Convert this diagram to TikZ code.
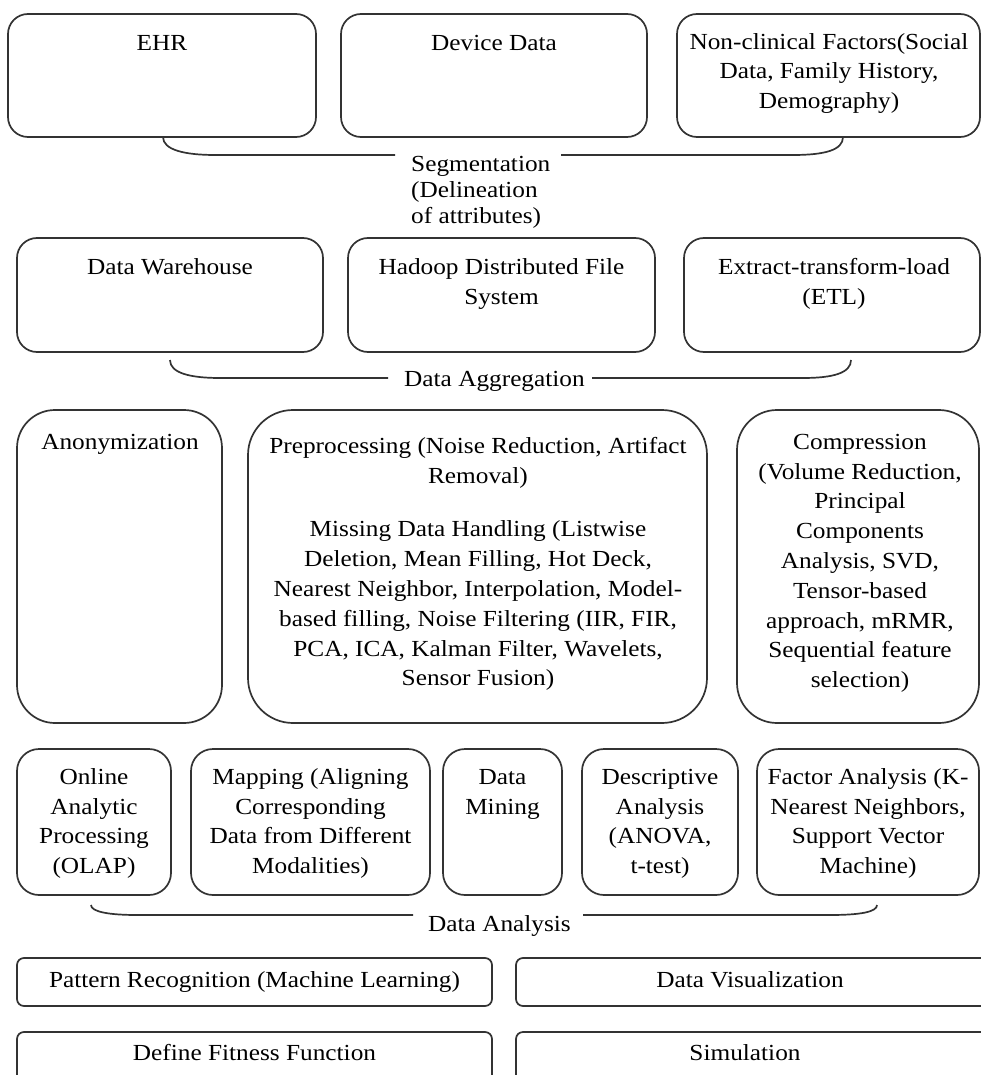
\documentclass[tikz,border=0pt]{standalone}
\usepackage{fontspec}
\setmainfont{Liberation Serif}[FakeStretch=1.1]
\newcommand\mybox[6]{%
  \node[boxst, rounded corners=#6pt, minimum width={#4-#2}, minimum height={#5-#3}] (#1) at ({(#2+#4)/2},{(#3+#5)/2}) {};}
\newcommand\mytext[4]{%
  \node[txt, anchor=north] (#1) at (#2,{#3-20.86}) {\strut #4};}
\begin{document}
\begin{tikzpicture}[x=1pt,y=-1pt,
  boxst/.style={draw=black!80, line width=1.7pt, inner sep=0pt, fill=none},
  txt/.style={font=\fontsize{23}{29.8}\selectfont, align=center, inner sep=0pt},
  lbl/.style={font=\fontsize{23}{26}\selectfont, align=left, inner sep=0pt},
  bracest/.style={draw=black!80, line width=1.7pt}]
\useasboundingbox (0,0) rectangle (981,1075);
\clip (0,0) rectangle (981,1075);
% Row 1
\mybox{ehr}{8}{14}{316}{137}{20}
\mybox{dev}{341}{14}{647}{137}{20}
\mybox{nonc}{677}{14}{980}{137}{20}
\mytext{ehrT}{162}{50}{EHR}
\mytext{devT}{494}{50}{Device Data}
\mytext{noncT}{829}{49}{Non-clinical Factors(Social\\Data, Family History,\\Demography)}
% Brace 1
\coordinate (b1a) at (163,137);
\coordinate (b1b) at (395,155);
\coordinate (b1c) at (561,155);
\coordinate (b1d) at (843,137);
\draw[bracest] (b1a) .. controls (163,150) and (185,155) .. (215,155) -- (b1b);
\draw[bracest] (b1c) -- (793,155) .. controls (825,155) and (843,150) .. (b1d);
\node[lbl, anchor=north west] (segT) at (411,{171-18.2}) {\strut Segmentation\\(Delineation\\of attributes)};
% Row 2
\mybox{dw}{17}{238}{323}{352}{20}
\mybox{hdfs}{348}{238}{655}{352}{20}
\mybox{etl}{684}{238}{980}{352}{20}
\mytext{dwT}{170}{274}{Data Warehouse}
\mytext{hdfsT}{501.5}{274}{Hadoop Distributed File\\System}
\mytext{etlT}{834}{274}{Extract-transform-load\\(ETL)}
% Brace 2
\coordinate (b2a) at (170,360);
\coordinate (b2b) at (388,378);
\coordinate (b2c) at (592,378);
\coordinate (b2d) at (851,360);
\draw[bracest] (b2a) .. controls (170,373) and (190,378) .. (220,378) -- (b2b);
\draw[bracest] (b2c) -- (803,378) .. controls (833,378) and (851,373) .. (b2d);
\node[txt, anchor=base west] (aggT) at (404,386) {Data Aggregation};
% Row 3
\mybox{anon}{17}{410}{222}{723}{38}
\mybox{pre}{248}{410}{707}{723}{45}
\mybox{comp}{737}{410}{979}{723}{40}
\mytext{anonT}{120}{449}{Anonymization}
\mytext{preT}{478}{453}{Preprocessing (Noise Reduction, Artifact\\Removal)\\[24pt]Missing Data Handling (Listwise\\Deletion, Mean Filling, Hot Deck,\\Nearest Neighbor, Interpolation, Model-\\based filling, Noise Filtering (IIR, FIR,\\PCA, ICA, Kalman Filter, Wavelets,\\Sensor Fusion)}
\mytext{compT}{860}{449}{Compression\\(Volume Reduction,\\Principal\\Components\\Analysis, SVD,\\Tensor-based\\approach, mRMR,\\Sequential feature\\selection)}
% Row 4
\mybox{olap}{17}{749}{171}{895}{22}
\mybox{map}{191}{749}{430}{895}{22}
\mybox{dm}{443}{749}{562}{895}{22}
\mybox{desc}{582}{749}{738}{895}{22}
\mybox{fact}{757}{749}{979}{895}{22}
\mytext{olapT}{94}{784}{Online\\Analytic\\Processing\\(OLAP)}
\mytext{mapT}{310.5}{784}{Mapping (Aligning\\Corresponding\\Data from Different\\Modalities)}
\mytext{dmT}{502.5}{784}{Data\\Mining}
\mytext{descT}{660}{784}{Descriptive\\Analysis\\(ANOVA,\\t-test)}
\mytext{factT}{868}{784}{Factor Analysis (K-\\Nearest Neighbors,\\Support Vector\\Machine)}
% Brace 3
\coordinate (b3a) at (91,905);
\coordinate (b3b) at (413,915);
\coordinate (b3c) at (583,915);
\coordinate (b3d) at (877,905);
\draw[bracest] (b3a) .. controls (91,912) and (110,915) .. (137,915) -- (b3b);
\draw[bracest] (b3c) -- (830,915) .. controls (860,915) and (877,912) .. (b3d);
\node[txt, anchor=base west] (anaT) at (428,931) {Data Analysis};
% Row 5
\mybox{pat}{17}{958}{492}{1006}{7}
\mybox{vis}{516}{958}{990}{1006}{7}
\mytext{patT}{254.5}{987}{Pattern Recognition (Machine Learning)}
\mytext{visT}{750}{987}{Data Visualization}
% Row 6
\mybox{fit}{17}{1032}{492}{1095}{7}
\mybox{sim}{516}{1032}{990}{1095}{7}
\mytext{fitT}{254.5}{1060}{Define Fitness Function}
\mytext{simT}{745}{1060}{Simulation}
\end{tikzpicture}
\end{document}
